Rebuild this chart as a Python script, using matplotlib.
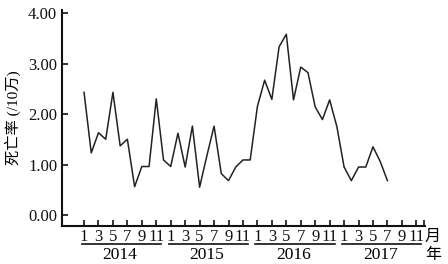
import matplotlib
matplotlib.use('Agg')
import matplotlib.pyplot as plt
import numpy as np

plt.rcParams['font.family'] = ['Liberation Serif', 'Noto Sans CJK SC']

# monthly death rate (/10万), Jan 2014 - Jul 2017
years = ['2014', '2015', '2016', '2017']
rate_2014 = [2.43, 1.23, 1.63, 1.50, 2.43, 1.37, 1.50, 0.56, 0.96, 0.96, 2.30, 1.09]
rate_2015 = [0.96, 1.62, 0.95, 1.76, 0.55, 1.17, 1.76, 0.82, 0.68, 0.95, 1.09, 1.09]
rate_2016 = [2.15, 2.67, 2.29, 3.33, 3.58, 2.28, 2.93, 2.82, 2.14, 1.89, 2.28, 1.75]
rate_2017 = [0.95, 0.68, 0.95, 0.95, 1.35, 1.06, 0.68]
month_labels = ['1', '3', '5', '7', '9', '11']

rates = rate_2014 + rate_2015 + rate_2016 + rate_2017
idx = np.arange(len(rates))

fig = plt.figure(figsize=(4.48, 2.64), dpi=100)
ax = fig.add_axes([62/448, 1 - 226/264, (425 - 62)/448, 216/264])

ax.plot(idx, rates, color='#222222', linewidth=1.1)

ax.set_xlim(-3.05, 47.2)
ax.set_ylim(-0.218, 4.06)

ax.set_yticks([0, 1, 2, 3, 4])
ax.set_yticklabels(['0.00', '1.00', '2.00', '3.00', '4.00'], fontsize=12)

xt = list(range(0, 48, 2)) + [47]
ax.set_xticks(xt)
ax.set_xticklabels(month_labels * 4 + [''], fontsize=12)
ax.tick_params(direction='in', length=4.5, width=1.2, pad=2.5, colors='#111111')
ax.tick_params(axis='y', pad=3.5)

for s in ['top', 'right']:
    ax.spines[s].set_visible(False)
for s in ['left', 'bottom']:
    ax.spines[s].set_linewidth(1.5)
    ax.spines[s].set_color('#111111')

ax.set_ylabel('死亡率 (/10万)', fontsize=11, labelpad=5)

tr = ax.get_xaxis_transform()
for k, y in enumerate(years):
    x0 = 12 * k
    ax.plot([x0 - 0.3, x0 + 10.7], [-0.085, -0.085], transform=tr, color='#111111',
            linewidth=1.2, clip_on=False)
    ax.text(x0 + 5, -0.135, y, transform=tr, ha='center', va='center', fontsize=12.5)

ax.text(48.3, -0.05, '月', transform=tr, ha='center', va='center', fontsize=11.5)
ax.text(48.3, -0.135, '年', transform=tr, ha='center', va='center', fontsize=11.5)

fig.savefig('out.png', dpi=100)
